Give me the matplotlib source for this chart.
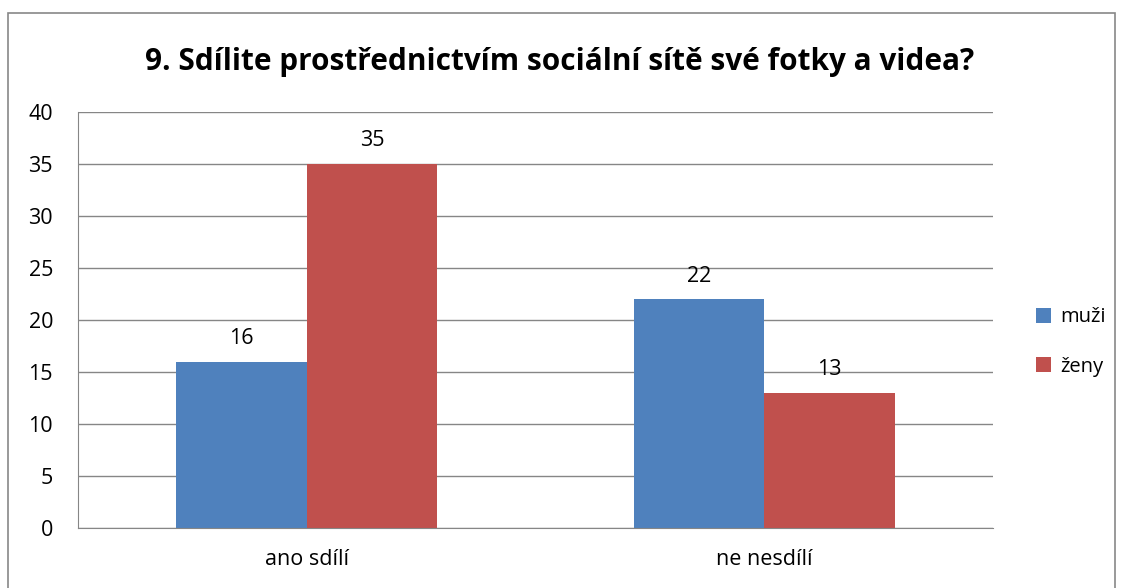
import numpy as np
import matplotlib.pyplot as plt
from matplotlib.patches import Rectangle

categories = ['ano sdílí', 'ne nesdílí']
muzi = [16, 22]
zeny = [35, 13]
series_names = ['muži', 'ženy']

plt.rcParams['font.family'] = ['Open Sans', 'DejaVu Sans']

fig = plt.figure(figsize=(11.23, 5.88), dpi=100)
# outer chart border
fig.patches.append(Rectangle((8 / 1123, -0.05), 1107 / 1123, (588 - 13) / 588 + 0.05,
                             transform=fig.transFigure, fill=False,
                             edgecolor='#878787', linewidth=1.2))

ax = fig.add_axes([78 / 1123, 60 / 588, 915 / 1123, 416 / 588])
x = np.arange(len(categories))
w = 0.285
b1 = ax.bar(x - w / 2, muzi, w, color='#4F81BD', label=series_names[0])
b2 = ax.bar(x + w / 2, zeny, w, color='#C0504D', label=series_names[1])

for bars in (b1, b2):
    for r in bars:
        ax.annotate(str(int(r.get_height())), (r.get_x() + r.get_width() / 2, r.get_height()),
                    xytext=(0, 9), textcoords='offset points', ha='center', va='bottom',
                    fontsize=15.5)

ax.set_xlim(-0.5, 1.5)
ax.set_ylim(0, 40)
ax.set_yticks(range(0, 41, 5))
ax.set_xticks(x)
ax.set_xticklabels(categories)
ax.tick_params(axis='both', length=0, labelsize=15.5)
ax.tick_params(axis='x', pad=15)
ax.tick_params(axis='y', pad=18)
ax.yaxis.grid(True, color='#868686', linewidth=1)
ax.set_axisbelow(True)
for s in ['top', 'right']:
    ax.spines[s].set_visible(False)
for s in ['left', 'bottom']:
    ax.spines[s].set_color('#868686')

fig.text(560 / 1123, 1 - 62 / 588, '9. Sdílite prostřednictvím sociální sítě své fotky a videa?',
         ha='center', va='center', fontsize=21.4, fontweight='bold')

fig.legend(loc='center left', bbox_to_anchor=(1036 / 1123, 1 - 342 / 588), frameon=False,
           fontsize=14.5, handlelength=0.75, handleheight=0.75, handletextpad=0.45,
           labelspacing=1.45, borderpad=0, borderaxespad=0)

fig.savefig('out.png', dpi=100)
